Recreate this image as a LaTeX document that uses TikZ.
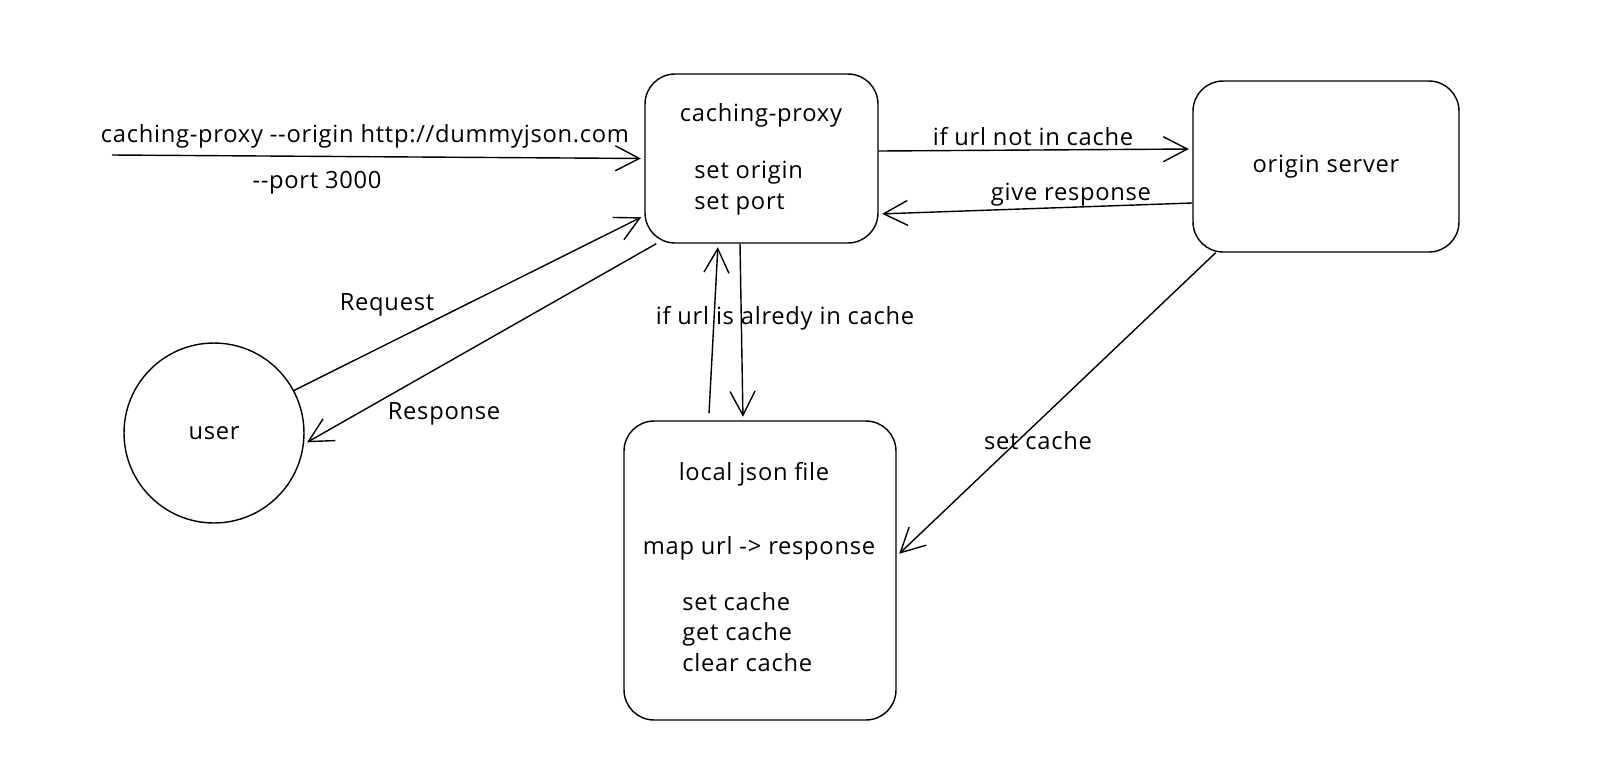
\documentclass[tikz,border=0pt]{standalone}
\usepackage{fontspec}
\newfontfamily\handfont{Open Sans}[LetterSpace=3]
\usetikzlibrary{positioning}
\usetikzlibrary{arrows.meta}
\tikzset{every picture/.style={line width=0.8pt},
box/.style={draw, rounded corners=0.6cm, inner sep=0pt},
arr/.style={-{Straight Barb[length=0.48cm,width=0.5cm]}, shorten >=2pt},
txt/.style={font=\handfont\fontsize{13.5}{17.5}\selectfont, inner sep=1pt}}

\begin{document}
\begin{tikzpicture}[x=0.02cm, y=-0.02cm, every node/.style={txt}]
\useasboundingbox (0,0) rectangle (1619,758);
\node (proxy) at (761.5,158.5) [box, minimum width=4.66cm, minimum height=3.38cm] {};
\node (ptitle) at (761,115) {caching-proxy};
\node (pset) at (692,188) [anchor=west, align=left] {set origin\\set port};
\node (origin) at (1326,166.5) [box, minimum width=5.32cm, minimum height=3.42cm] {origin server};
\node (json) at (760,570.5) [box, minimum width=5.44cm, minimum height=5.98cm] {};
\node (jtitle) at (754,474) {local json file};
\node (jmap) at (759,548) {map url -> response};
\node (jops) at (680,632) [anchor=west, align=left] {set cache\\get cache\\clear cache};
\node (user) at (214,433) [draw, circle, minimum size=3.6cm] {user};

% command line into the proxy
\coordinate (cmd) at (112,155);
\draw[arr] (cmd) -- (proxy.west);
\node (cmdtxt) at (365,136) {caching-proxy --origin http://dummyjson.com};
\node (porttxt) at (317,183) {--port 3000};

% user <-> proxy
\draw[arr] (user.28) -- (proxy.206);
\node (req) at (387,305) {Request};
\draw[arr] (proxy.219) -- (user.-7);
\node (resp) at (444,414) {Response};

% proxy <-> origin
\draw[arr] ([yshift=0.15cm]proxy.east) -- ([yshift=0.35cm]origin.west);
\node (notin) at (1033,137) {if url not in cache};
\draw[arr] ([yshift=-0.73cm]origin.west) -- ([yshift=-1.11cm]proxy.east);
\node (give) at (1071,195) {give response};

% proxy <-> json file
\draw[arr] ([xshift=-1.02cm,yshift=0.14cm]json.north) -- ([xshift=-0.87cm]proxy.south);
\draw[arr] ([xshift=-0.43cm]proxy.south) -- ([xshift=-0.34cm]json.north);
\node (already) at (785,318) {if url is alredy in cache};

% origin -> json file
\draw[arr] (origin.218) -- (json.6);
\node (setc) at (1038,441) {set cache};
\end{tikzpicture}
\end{document}
